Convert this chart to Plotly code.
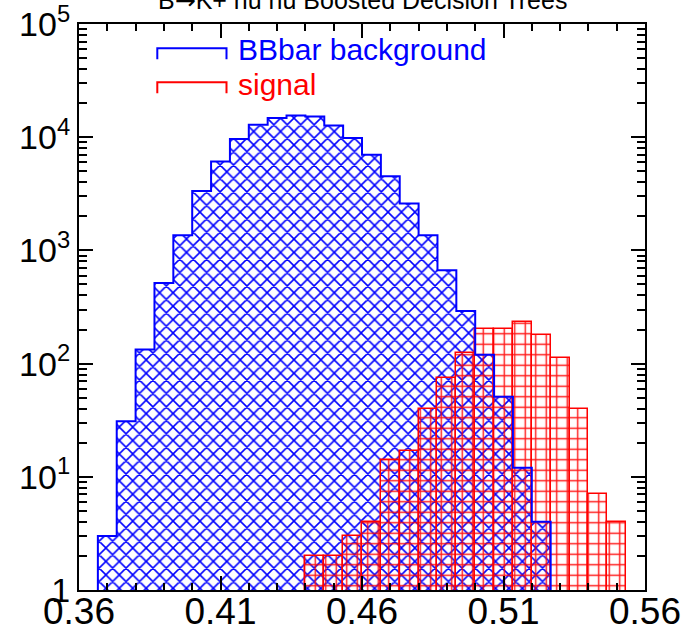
import numpy as np
import plotly.graph_objects as go

# Binning of the BDT output: 30 equal-width bins on [0.36, 0.56]
x_min, x_max, n_bins = 0.36, 0.56, 30
bin_edges = np.linspace(x_min, x_max, n_bins + 1)
bin_centers = 0.5 * (bin_edges[:-1] + bin_edges[1:])
bin_width = bin_edges[1] - bin_edges[0]

# Entries per bin
bkg_counts = [0, 3, 31, 133, 515, 1360, 3340, 6110, 9620, 12900, 14750, 15570,
              15200, 12700, 9820, 7010, 4510, 2590, 1360, 667, 292, 120, 51, 12,
              4, 0, 0, 0, 0, 0]
sig_counts = [0, 0, 0, 0, 0, 0, 0, 0, 0, 0, 0, 0,
              2, 2, 3, 4, 14, 17, 40, 74, 125, 201, 201, 231,
              178, 111, 40, 7, 4, 0]

# Axis labels
x_tick_vals = [0.36, 0.41, 0.46, 0.51, 0.56]
x_tick_text = ["0.36", "0.41", "0.46", "0.51", "0.56"]
y_tick_vals = [1, 10, 100, 1000, 10000, 100000]
y_tick_text = ["1", "10<sup>1</sup>", "10<sup>2</sup>", "10<sup>3</sup>",
               "10<sup>4</sup>", "10<sup>5</sup>"]

title_text = ('B<span style="font-family:DejaVu Sans">\u2192</span>'
              'K+ nu nu Boosted Decision Trees')
legend_labels = ["BBbar background", "signal"]
BLUE, RED = "#0000ff", "#ff0000"
FONT = "Liberation Sans, Arial, sans-serif"


def nonzero(counts):
    return [c if c > 0 else None for c in counts]


def step_outline(counts):
    """x/y points of a closed histogram outline (for line_shape='hv')."""
    idx = [i for i, c in enumerate(counts) if c > 0]
    first, last = idx[0], idx[-1]
    xs = [bin_edges[first]] + list(bin_edges[first:last + 1]) + [bin_edges[last + 1]]
    ys = [1] + list(counts[first:last + 1]) + [1]
    return xs, ys


fig = go.Figure()

# background: blue cross-hatched histogram
fig.add_trace(go.Bar(
    x=bin_centers, y=nonzero(bkg_counts), width=bin_width,
    marker=dict(color=BLUE, line=dict(width=0),
                pattern=dict(shape="x", size=9.5, solidity=0.3,
                             fillmode="replace", fgcolor=BLUE)),
    hoverinfo="skip",
))
bx, by = step_outline(bkg_counts)
fig.add_trace(go.Scatter(x=bx, y=by, mode="lines", line_shape="hv",
                         line=dict(color=BLUE, width=2), hoverinfo="skip",
                         cliponaxis=False))

# signal: red grid-hatched histogram drawn on top
fig.add_trace(go.Bar(
    x=bin_centers, y=nonzero(sig_counts), width=bin_width,
    marker=dict(color=RED, line=dict(color=RED, width=1.5),
                pattern=dict(shape="+", size=10.5, solidity=0.25,
                             fillmode="replace", fgcolor=RED, fgopacity=0.9)),
    hoverinfo="skip",
))

# plot area in pixels: left 79, right 645, top 24, bottom 590
L, R, T, B = 79, 645, 24, 590
W, H = R - L, B - T


def px(xp):
    return (xp - L) / W


def py(yp):
    return (B - yp) / H


shapes = []
annotations = []
for label, color, y_line, y_leg, y_text in [
        (legend_labels[0], BLUE, 48.3, 59.3, 49.5),
        (legend_labels[1], RED, 82.3, 93.3, 84.5)]:
    x0, x1 = px(157.3), px(226.5)
    shapes.append(dict(
        type="path", xref="paper", yref="paper",
        path=f"M {x0},{py(y_leg)} L {x0},{py(y_line)} L {x1},{py(y_line)} L {x1},{py(y_leg)}",
        line=dict(color=color, width=2)))
    annotations.append(dict(
        text=label, xref="paper", yref="paper", x=px(236), y=py(y_text),
        xanchor="left", yanchor="middle", showarrow=False,
        font=dict(family=FONT, size=30, color=color)))

annotations.append(dict(
    text=title_text, xref="paper", yref="paper", x=0.5, y=1,
    xanchor="center", yanchor="bottom", yshift=7, showarrow=False,
    font=dict(family=FONT, size=25, color="black")))

axis_common = dict(
    showline=True, linewidth=2, linecolor="black", mirror="allticks",
    ticks="inside", ticklen=14, tickwidth=1.5, tickcolor="black",
    showgrid=False, zeroline=False, automargin=False,
    ticklabeloverflow="allow",
)

minor_y = [k * 10 ** n for n in range(5) for k in range(2, 10)]

fig.update_layout(
    width=696, height=627,
    margin=dict(l=L, r=696 - R, t=T, b=627 - B, autoexpand=False),
    paper_bgcolor="white", plot_bgcolor="white",
    barmode="overlay", bargap=0, showlegend=False,
    font=dict(family=FONT, color="black"),
    shapes=shapes, annotations=annotations,
    xaxis=dict(range=[x_min, x_max], tickmode="array",
               tickvals=x_tick_vals, ticktext=x_tick_text,
               ticklabelstandoff=-12,
               tickfont=dict(family=FONT, size=37, color="black"),
               minor=dict(dtick=0.01, tick0=x_min, ticks="inside", ticklen=7,
                          tickwidth=1.5, tickcolor="black"),
               **axis_common),
    yaxis=dict(type="log", range=[0, 5], tickmode="array",
               tickvals=y_tick_vals, ticktext=y_tick_text,
               ticklabelstandoff=0,
               tickfont=dict(family=FONT, size=34, color="black"),
               minor=dict(tickmode="array", tickvals=minor_y, ticks="inside",
                          ticklen=8, tickwidth=1.5, tickcolor="black"),
               **axis_common),
)

fig.write_html("out.html")
